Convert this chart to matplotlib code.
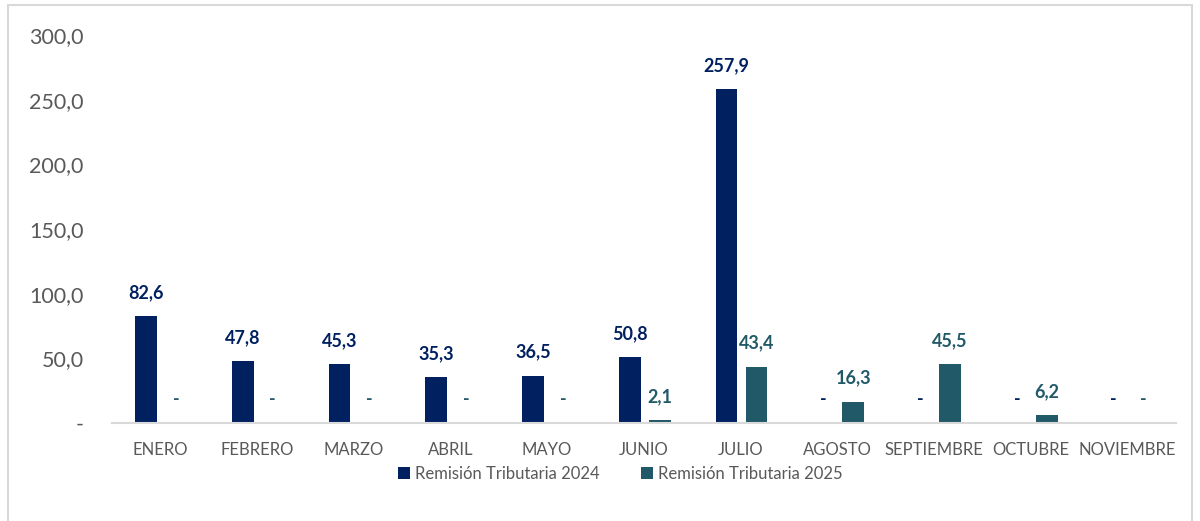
import numpy as np
import matplotlib.pyplot as plt
from matplotlib.patches import Rectangle

plt.rcParams['font.family'] = ['Lato', 'DejaVu Sans']

meses = ['ENERO', 'FEBRERO', 'MARZO', 'ABRIL', 'MAYO', 'JUNIO', 'JULIO',
         'AGOSTO', 'SEPTIEMBRE', 'OCTUBRE', 'NOVIEMBRE']
rt_2024 = [82.6, 47.8, 45.3, 35.3, 36.5, 50.8, 257.9, 0, 0, 0, 0]
rt_2025 = [0, 0, 0, 0, 0, 2.1, 43.4, 16.3, 45.5, 6.2, 0]
series = ['Remisión Tributaria 2024', 'Remisión Tributaria 2025']
y_ticks = [0, 50, 100, 150, 200, 250, 300]

NAVY = '#002060'
TEAL = '#215968'
GRAY = '#595959'


def fmt(v):
    return '-' if v == 0 else f'{v:.1f}'.replace('.', ',')


fig = plt.figure(figsize=(12, 5.21), dpi=100)
ax = fig.add_axes([0.093, 0.188, 0.887, 0.745])

x = np.arange(len(meses))
w = 0.225
off = 0.145
b1 = ax.bar(x - off, rt_2024, w, color=NAVY, label=series[0])
b2 = ax.bar(x + off + 0.02, rt_2025, w, color=TEAL, label=series[1])

for bars, vals, col in [(b1, rt_2024, NAVY), (b2, rt_2025, TEAL)]:
    for b, v in zip(bars, vals):
        if v == 0:
            ax.text(b.get_x() + b.get_width() / 2, 18, '-', ha='center',
                    va='center', color=col, fontsize=13, fontweight='bold')
        else:
            ax.annotate(fmt(v), (b.get_x() + b.get_width() / 2, v),
                        xytext=(0, 11), textcoords='offset points',
                        ha='center', va='bottom', color=col,
                        fontsize=13, fontweight='bold')

ax.set_xlim(-0.5, len(meses) - 0.5)
ax.set_ylim(0, 300)
ax.set_yticks(y_ticks)
ax.set_yticklabels([fmt(t) for t in y_ticks], fontsize=15.5, color=GRAY)
ax.set_xticks(x)
ax.set_xticklabels(meses, fontsize=12, color=GRAY)
ax.tick_params(axis='both', length=0)
ax.tick_params(axis='y', pad=20)
ax.tick_params(axis='x', pad=14)
for s in ['top', 'right', 'left']:
    ax.spines[s].set_visible(False)
ax.spines['bottom'].set_color('#D9D9D9')
ax.spines['bottom'].set_linewidth(1.5)

leg = fig.legend(loc='center', bbox_to_anchor=(0.517, 0.09), ncol=2,
                 frameon=False, fontsize=12, handlelength=0.7,
                 handleheight=0.7, handletextpad=0.3, columnspacing=2.5)
for t in leg.get_texts():
    t.set_color(GRAY)

fig.patches.append(Rectangle((0.007, -0.05), 0.986, 1.04, transform=fig.transFigure,
                             fill=False, edgecolor='#D9D9D9', linewidth=1.5))

fig.savefig('out.png', dpi=100)
